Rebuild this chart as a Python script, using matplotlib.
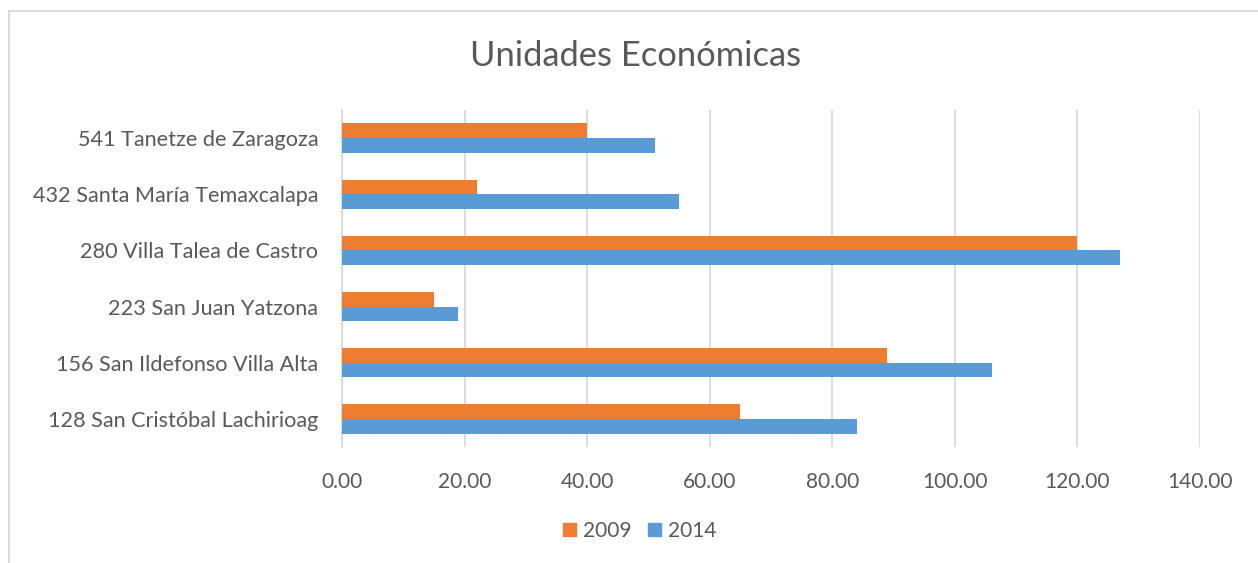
import matplotlib
matplotlib.use("Agg")
import matplotlib.pyplot as plt
from matplotlib.lines import Line2D
from matplotlib.patches import Patch
import numpy as np

plt.rcParams['font.family'] = ['Lato', 'DejaVu Sans']

categories = ["128 San Cristóbal Lachirioag", "156 San Ildefonso Villa Alta",
              "223 San Juan Yatzona", "280 Villa Talea de Castro",
              "432 Santa María Temaxcalapa", "541 Tanetze de Zaragoza"]
values_2009 = [65, 89, 15, 120, 22, 40]
values_2014 = [84, 106, 19, 127, 55, 51]
series_labels = ["2009", "2014"]
xticks = [0, 20, 40, 60, 80, 100, 120, 140]

text_color = "#595959"
grid_color = "#D9D9D9"
c2009 = "#ED7D31"
c2014 = "#5B9BD5"

fig = plt.figure(figsize=(12.58, 5.63), dpi=100)
ax = fig.add_axes([342/1258, 1-447/563, (1200-342)/1258, (447-110)/563])

y = np.arange(len(categories))
h = 0.26
ax.barh(y + h/2, values_2009, height=h, color=c2009, zorder=3)
ax.barh(y - h/2, values_2014, height=h, color=c2014, zorder=3)

ax.set_xlim(0, 140)
ax.set_ylim(-0.5, len(categories) - 0.5)
ax.set_xticks(xticks)
ax.set_xticklabels([f"{v:.2f}" for v in xticks])
ax.set_yticks(y)
ax.set_yticklabels(categories)
ax.tick_params(axis='both', length=0, colors=text_color)
ax.tick_params(axis='x', pad=18, labelsize=15)
ax.tick_params(axis='y', pad=17, labelsize=15.6)
ax.grid(axis='x', color=grid_color, linewidth=1.3, zorder=0)
for s in ['top', 'right', 'bottom']:
    ax.spines[s].set_visible(False)
ax.spines['left'].set_color(grid_color)
ax.spines['left'].set_linewidth(1.3)

fig.text(636/1258, 1-56/563, "Unidades Económicas", ha='center', va='center',
         fontsize=24.8, color=text_color)

handles = [Patch(color=c2009, label=series_labels[0]),
           Patch(color=c2014, label=series_labels[1])]
fig.legend(handles=handles, loc='center', bbox_to_anchor=(640/1258, 1-531/563),
           ncol=2, frameon=False, fontsize=15, labelcolor=text_color,
           handlelength=0.6, handleheight=0.6, handletextpad=0.35, columnspacing=0.8)

# chart area border (left and top visible)
fig.add_artist(Line2D([9/1258, 9/1258], [0, 1-11/563], transform=fig.transFigure,
                      color=grid_color, linewidth=1.3))
fig.add_artist(Line2D([9/1258, 1], [1-11/563, 1-11/563], transform=fig.transFigure,
                      color=grid_color, linewidth=1.3))

fig.savefig("out.png", dpi=100)
